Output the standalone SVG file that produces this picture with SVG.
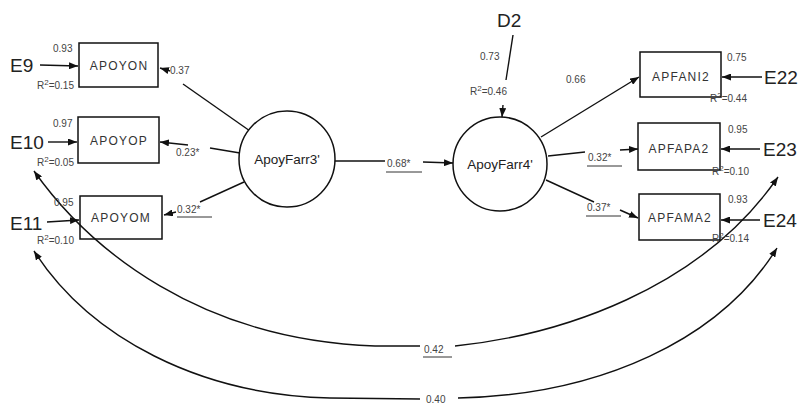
<svg xmlns="http://www.w3.org/2000/svg" width="801" height="404" viewBox="0 0 801 404">
<defs>
<marker id="ah" viewBox="0 0 10 10" refX="10" refY="5" markerWidth="9" markerHeight="7" preserveAspectRatio="none" orient="auto-start-reverse" markerUnits="userSpaceOnUse"><path d="M0,0 L10,5 L0,10 z" fill="#111"/></marker>
<style>
.ln{stroke:#111;stroke-width:1.4;fill:none}
.bx{stroke:#111;stroke-width:1.5;fill:none}
.cr{stroke:#111;stroke-width:1.5;fill:#fff}
.nd{font-family:"Liberation Sans",Arial,sans-serif;font-size:12px;letter-spacing:1.2px;fill:#333;text-anchor:middle}
.lv{font-family:"Liberation Sans",Arial,sans-serif;font-size:13.5px;fill:#222;text-anchor:middle}
.ev{font-family:"Liberation Sans",Arial,sans-serif;font-size:19px;fill:#222}
.sm{font-family:"Liberation Sans",Arial,sans-serif;font-size:10px;fill:#444}
.ul{stroke:#333;stroke-width:1}
</style>
</defs>
<rect width="801" height="404" fill="#fff"/>

<g id="connectors">
<!-- errors left -->
<path class="ln" d="M40,65 L78,66" marker-end="url(#ah)"/>
<path class="ln" d="M48,142 L77,142" marker-end="url(#ah)"/>
<path class="ln" d="M47,222 L79,220" marker-end="url(#ah)"/>
<!-- errors right -->
<path class="ln" d="M762,77 L722,77" marker-end="url(#ah)"/>
<path class="ln" d="M760,149 L721,149" marker-end="url(#ah)"/>
<path class="ln" d="M760,220 L721,220" marker-end="url(#ah)"/>
<!-- D2 -->
<path class="ln" d="M513,35 L506,80"/>
<path class="ln" d="M503,105 L502,117" marker-end="url(#ah)"/>
<!-- F3 to indicators -->
<path class="ln" d="M250,131 L183,84"/>
<path class="ln" d="M170,71 L160,68" marker-end="url(#ah)"/>
<path class="ln" d="M240,153 L210,148"/>
<path class="ln" d="M188,145 L160,142" marker-end="url(#ah)"/>
<path class="ln" d="M244,182 L200,202"/>
<path class="ln" d="M176,212 L164,215" marker-end="url(#ah)"/>
<!-- F3 to F4 -->
<path class="ln" d="M335,161 L385,161"/>
<path class="ln" d="M423,162 L453,163" marker-end="url(#ah)"/>
<!-- F4 to indicators -->
<path class="ln" d="M541,137 L639,77" marker-end="url(#ah)"/>
<path class="ln" d="M548,156 L585,152"/>
<path class="ln" d="M620,150 L638,149" marker-end="url(#ah)"/>
<path class="ln" d="M546,180 L594,202"/>
<path class="ln" d="M620,210 L638,218" marker-end="url(#ah)"/>
<!-- correlations -->
<path class="ln" d="M34,171 C90,250 200,340 375,346 L420,346" marker-start="url(#ah)"/>
<path class="ln" d="M455,346 C560,335 700,290 778,177" marker-end="url(#ah)"/>
<path class="ln" d="M34,251 C90,338 200,395 330,398 L420,399" marker-start="url(#ah)"/>
<path class="ln" d="M458,398 C600,395 720,340 777,248" marker-end="url(#ah)"/>
</g>

<g id="labels">
<text class="sm" x="170" y="74">0.37</text>
<text class="sm" x="176" y="156">0.23*</text>
<text class="sm" x="177" y="213">0.32*</text><line class="ul" x1="177" y1="217" x2="212" y2="217"/>
<text class="sm" x="387" y="167">0.68*</text><line class="ul" x1="386" y1="172" x2="422" y2="172"/>
<text class="sm" x="566" y="83">0.66</text>
<text class="sm" x="588" y="161">0.32*</text><line class="ul" x1="587" y1="166" x2="622" y2="166"/>
<text class="sm" x="587" y="211">0.37*</text><line class="ul" x1="586" y1="216" x2="621" y2="216"/>
<text class="sm" x="424" y="353">0.42</text><line class="ul" x1="423" y1="357" x2="452" y2="357"/>
<text class="sm" x="426" y="403">0.40</text>
</g>

<g id="E9"><text class="ev" x="10" y="72">E9</text></g>
<g id="E10"><text class="ev" x="10" y="149">E10</text></g>
<g id="E11"><text class="ev" x="10" y="230">E11</text></g>
<g id="E22"><text class="ev" x="764" y="84">E22</text></g>
<g id="E23"><text class="ev" x="763" y="156">E23</text></g>
<g id="E24"><text class="ev" x="763" y="227">E24</text></g>
<g id="D2"><text class="ev" x="497" y="27">D2</text>
<text class="sm" x="480" y="60">0.73</text>
<text class="sm" x="470" y="95">R<tspan dy="-4" font-size="8">2</tspan><tspan dy="4">=0.46</tspan></text></g>

<g id="APOYON">
<rect class="bx" x="79" y="43" width="79" height="44"/>
<text class="nd" x="119" y="70">APOYON</text>
<text class="sm" x="53" y="52">0.93</text>
<text class="sm" x="37" y="89">R<tspan dy="-4" font-size="8">2</tspan><tspan dy="4">=0.15</tspan></text>
</g>
<g id="APOYOP">
<rect class="bx" x="78" y="117" width="81" height="46"/>
<text class="nd" x="119" y="145">APOYOP</text>
<text class="sm" x="53" y="127">0.97</text>
<text class="sm" x="37" y="166">R<tspan dy="-4" font-size="8">2</tspan><tspan dy="4">=0.05</tspan></text>
</g>
<g id="APOYOM">
<rect class="bx" x="80" y="196" width="82" height="43"/>
<text class="nd" x="121" y="222">APOYOM</text>
<text class="sm" x="54" y="206">0.95</text>
<text class="sm" x="37" y="244">R<tspan dy="-4" font-size="8">2</tspan><tspan dy="4">=0.10</tspan></text>
</g>

<g id="ApoyFarr3">
<circle class="cr" cx="287" cy="159" r="48"/>
<text class="lv" x="287" y="164">ApoyFarr3'</text>
</g>
<g id="ApoyFarr4">
<circle class="cr" cx="500" cy="164" r="47"/>
<text class="lv" x="500" y="169">ApoyFarr4'</text>
</g>

<g id="APFANI2">
<rect class="bx" x="640" y="52" width="81" height="45"/>
<text class="nd" x="681" y="81">APFANI2</text>
<text class="sm" x="727" y="61">0.75</text>
<text class="sm" x="710" y="102">R<tspan dy="-4" font-size="8">2</tspan><tspan dy="4">=0.44</tspan></text>
</g>
<g id="APFAPA2">
<rect class="bx" x="638" y="123" width="82" height="47"/>
<text class="nd" x="679" y="153">APFAPA2</text>
<text class="sm" x="728" y="133">0.95</text>
<text class="sm" x="712" y="175">R<tspan dy="-4" font-size="8">2</tspan><tspan dy="4">=0.10</tspan></text>
</g>
<g id="APFAMA2">
<rect class="bx" x="639" y="194" width="81" height="46"/>
<text class="nd" x="680" y="222">APFAMA2</text>
<text class="sm" x="728" y="203">0.93</text>
<text class="sm" x="712" y="242">R<tspan dy="-4" font-size="8">2</tspan><tspan dy="4">=0.14</tspan></text>
</g>
</svg>
